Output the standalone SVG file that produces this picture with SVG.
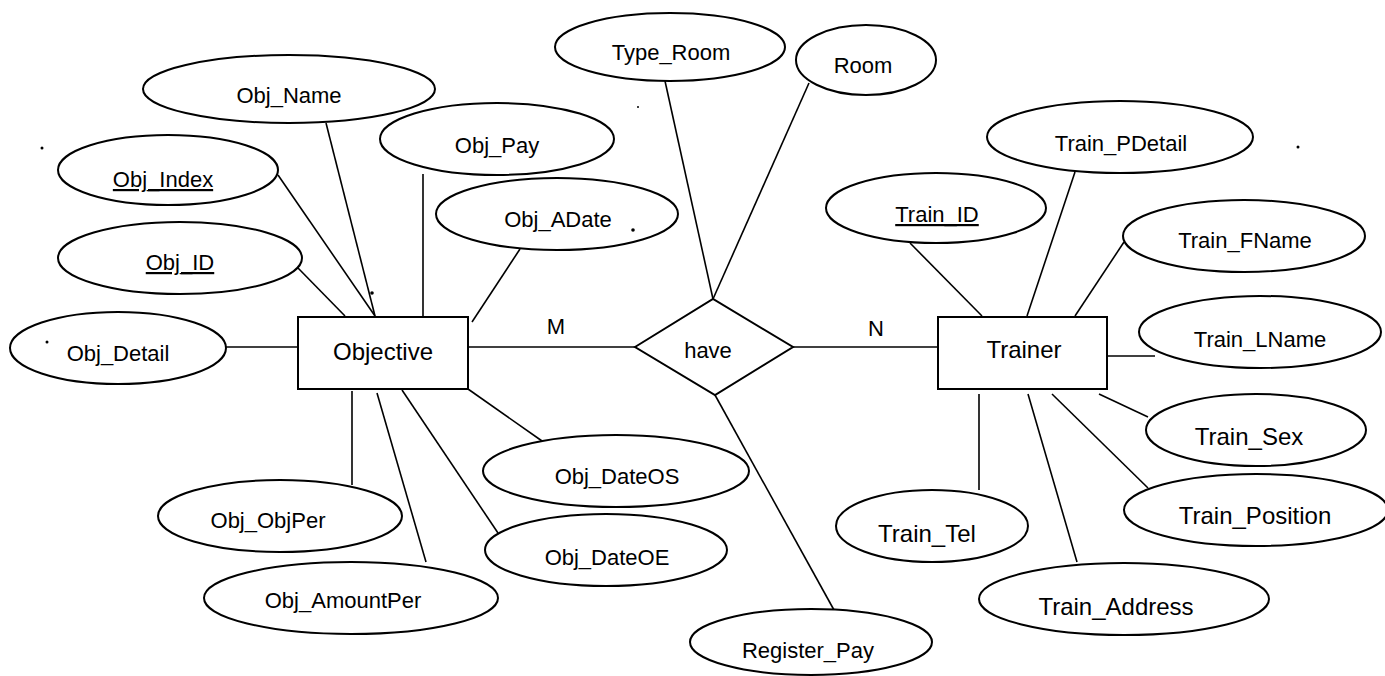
<svg xmlns="http://www.w3.org/2000/svg" width="1385" height="676" viewBox="0 0 1385 676">
<style>
.e{fill:#fff;stroke:#000;stroke-width:2}
.r{fill:#fff;stroke:#000;stroke-width:2}
.c line{stroke:#000;stroke-width:1.6}
text{font-family:"Liberation Sans",Arial,sans-serif;font-size:22px;fill:#000;text-anchor:middle}
.big{font-size:24px}
.u{text-decoration:underline}
.dot{fill:#000}
</style>
<rect width="1385" height="676" fill="#fff"/>
<g id="connectors" class="c">
<line x1="326" y1="123" x2="375" y2="316"/>
<line x1="278" y1="175" x2="375" y2="316"/>
<line x1="298" y1="268" x2="345" y2="316"/>
<line x1="226" y1="347" x2="298" y2="347"/>
<line x1="423" y1="174" x2="423" y2="316"/>
<line x1="520" y1="249" x2="472" y2="322"/>
<line x1="352" y1="391" x2="352" y2="485"/>
<line x1="377" y1="393" x2="426" y2="562"/>
<line x1="402" y1="390" x2="498" y2="533"/>
<line x1="468" y1="389" x2="542" y2="441"/>
<line x1="468" y1="347" x2="635" y2="347"/>
<line x1="793" y1="347" x2="938" y2="347"/>
<line x1="665" y1="81" x2="713" y2="299"/>
<line x1="809" y1="83" x2="713" y2="299"/>
<line x1="715" y1="395" x2="834" y2="610"/>
<line x1="910" y1="243" x2="982" y2="316"/>
<line x1="1075" y1="172" x2="1027" y2="316"/>
<line x1="1124" y1="242" x2="1075" y2="316"/>
<line x1="1107" y1="356" x2="1155" y2="356"/>
<line x1="979" y1="394" x2="979" y2="490"/>
<line x1="1028" y1="394" x2="1077" y2="562"/>
<line x1="1052" y1="394" x2="1148" y2="488"/>
<line x1="1099" y1="394" x2="1148" y2="417"/>
</g>
<g id="Obj_Name"><ellipse class="e" cx="289" cy="89" rx="146" ry="34"/><text x="289" y="103">Obj_Name</text></g>
<g id="Obj_Index"><ellipse class="e" cx="168" cy="170" rx="110" ry="35"/><text class="u" x="163" y="187">Obj_Index</text></g>
<g id="Obj_ID"><ellipse class="e" cx="180" cy="258" rx="122" ry="36"/><text class="u" x="180" y="270">Obj_ID</text></g>
<g id="Obj_Detail"><ellipse class="e" cx="118" cy="348" rx="108" ry="36"/><text x="118" y="361">Obj_Detail</text></g>
<g id="Obj_Pay"><ellipse class="e" cx="497" cy="139" rx="117" ry="36"/><text x="497" y="153">Obj_Pay</text></g>
<g id="Obj_ADate"><ellipse class="e" cx="557" cy="214" rx="121" ry="36"/><text x="558" y="227">Obj_ADate</text></g>
<g id="Objective"><rect class="r" x="298" y="317" width="170" height="72"/><text class="big" x="383" y="360">Objective</text></g>
<g id="Obj_ObjPer"><ellipse class="e" cx="280" cy="516" rx="122" ry="36"/><text x="268" y="528">Obj_ObjPer</text></g>
<g id="Obj_AmountPer"><ellipse class="e" cx="351" cy="598" rx="147" ry="36"/><text x="343" y="608">Obj_AmountPer</text></g>
<g id="Obj_DateOS"><ellipse class="e" cx="616" cy="471" rx="133" ry="36"/><text x="617" y="484">Obj_DateOS</text></g>
<g id="Obj_DateOE"><ellipse class="e" cx="606" cy="550" rx="121" ry="36"/><text x="607" y="565">Obj_DateOE</text></g>
<g id="Type_Room"><ellipse class="e" cx="670" cy="47" rx="115" ry="34"/><text x="671" y="60">Type_Room</text></g>
<g id="Room"><ellipse class="e" cx="866" cy="60" rx="70" ry="35"/><text x="863" y="73">Room</text></g>
<g id="have"><polygon class="r" points="635,347 713,299 793,347 715,395"/><text x="708" y="358">have</text></g>
<g id="Register_Pay"><ellipse class="e" cx="811" cy="642" rx="121" ry="33"/><text x="808" y="658">Register_Pay</text></g>
<g id="labels"><text x="556" y="334">M</text><text x="876" y="336">N</text></g>
<g id="Trainer"><rect class="r" x="938" y="317" width="169" height="72"/><text class="big" x="1024" y="358">Trainer</text></g>
<g id="Train_ID"><ellipse class="e" cx="936" cy="208" rx="110" ry="35"/><text class="u" x="937" y="222">Train_ID</text></g>
<g id="Train_PDetail"><ellipse class="e" cx="1120" cy="137" rx="133" ry="36"/><text x="1121" y="151">Train_PDetail</text></g>
<g id="Train_FName"><ellipse class="e" cx="1244" cy="236" rx="121" ry="36"/><text x="1245" y="248">Train_FName</text></g>
<g id="Train_LName"><ellipse class="e" cx="1260" cy="332" rx="121" ry="36"/><text x="1260" y="347">Train_LName</text></g>
<g id="Train_Sex"><ellipse class="e" cx="1256" cy="430" rx="110" ry="36"/><text class="big" x="1249" y="445">Train_Sex</text></g>
<g id="Train_Position"><ellipse class="e" cx="1256" cy="510" rx="132" ry="36"/><text class="big" x="1255" y="524">Train_Position</text></g>
<g id="Train_Tel"><ellipse class="e" cx="932" cy="526" rx="96" ry="36"/><text class="big" x="927" y="542">Train_Tel</text></g>
<g id="Train_Address"><ellipse class="e" cx="1124" cy="599" rx="145" ry="36"/><text class="big" x="1116" y="615">Train_Address</text></g>
<g id="specks">
<circle class="dot" cx="42" cy="148" r="1.5"/>
<circle class="dot" cx="47" cy="342" r="1.5"/>
<circle class="dot" cx="372" cy="293" r="1.8"/>
<circle class="dot" cx="633" cy="230" r="1.8"/>
<circle class="dot" cx="638" cy="107" r="1"/>
<circle class="dot" cx="1298" cy="147" r="1.5"/>
</g>
</svg>
